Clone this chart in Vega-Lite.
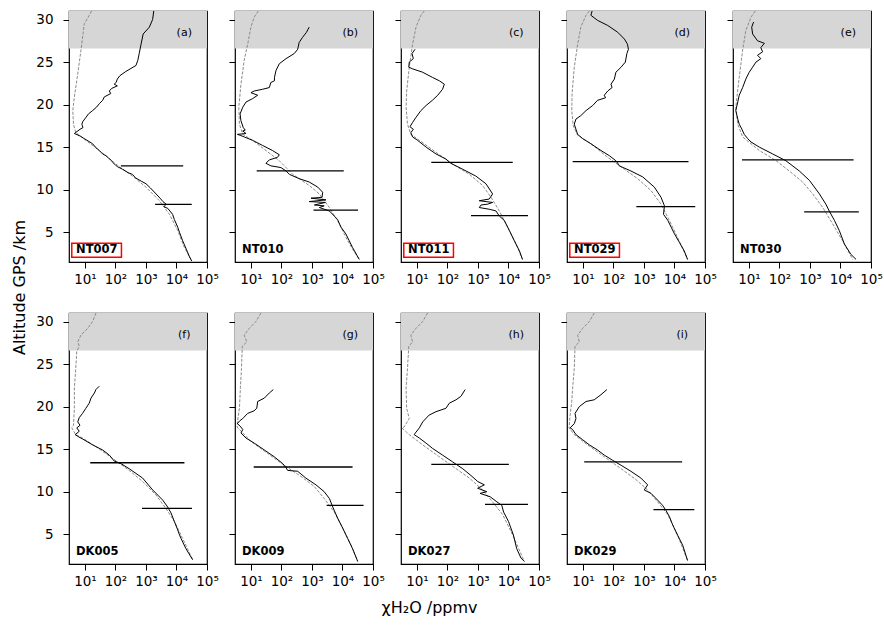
{
"$schema": "https://vega.github.io/schema/vega-lite/v6.json",
"background": "white",
"padding": {"left": 11, "top": 8, "right": 5, "bottom": 5},
"columns": 5,
"spacing": {"row": 51, "column": 28},
"bounds": "flush",
"config": {
  "font": "DejaVu Sans",
  "view": {"stroke": "black", "strokeWidth": 1.2},
  "axis": {"domain": false, "tickColor": "black", "tickSize": 6, "tickWidth": 1, "labelFont": "DejaVu Sans", "labelFontSize": 13.5, "labelColor": "black", "labelOverlap": false, "labelFlush": false, "labelBound": false, "gridColor": "#bdbdbd", "gridDash": [1, 1.5], "gridWidth": 0.8, "titleFont": "DejaVu Sans", "titleFontSize": 16, "titleFontWeight": "normal", "titleColor": "black"},
  "axisX": {"labelPadding": 4},
  "axisY": {"labelPadding": 10}
},
"datasets": {
  "panels": [
    {"panel": "a", "letter": "(a)", "name": "NT007", "boxed": true},
    {"panel": "b", "letter": "(b)", "name": "NT010", "boxed": false},
    {"panel": "c", "letter": "(c)", "name": "NT011", "boxed": true},
    {"panel": "d", "letter": "(d)", "name": "NT029", "boxed": true},
    {"panel": "e", "letter": "(e)", "name": "NT030", "boxed": false},
    {"panel": "f", "letter": "(f)", "name": "DK005", "boxed": false},
    {"panel": "g", "letter": "(g)", "name": "DK009", "boxed": false},
    {"panel": "h", "letter": "(h)", "name": "DK027", "boxed": false},
    {"panel": "i", "letter": "(i)", "name": "DK029", "boxed": false}
  ],
  "bars": [
    {"panel": "a", "alt": 12.8, "lo": 151, "hi": 16600}, {"panel": "a", "alt": 8.27, "lo": 1990, "hi": 31600},
    {"panel": "b", "alt": 12.2, "lo": 15.4, "hi": 11000}, {"panel": "b", "alt": 7.6, "lo": 1120, "hi": 32400},
    {"panel": "c", "alt": 13.2, "lo": 29.5, "hi": 13800}, {"panel": "c", "alt": 6.94, "lo": 590, "hi": 43600},
    {"panel": "d", "alt": 13.3, "lo": 4.6, "hi": 28800}, {"panel": "d", "alt": 8.0, "lo": 562, "hi": 47900},
    {"panel": "e", "alt": 13.5, "lo": 5.9, "hi": 26900}, {"panel": "e", "alt": 7.4, "lo": 646, "hi": 39800},
    {"panel": "f", "alt": 13.4, "lo": 14.9, "hi": 18200}, {"panel": "f", "alt": 8.04, "lo": 741, "hi": 32100},
    {"panel": "g", "alt": 12.9, "lo": 12.3, "hi": 21400}, {"panel": "g", "alt": 8.4, "lo": 3020, "hi": 49000},
    {"panel": "h", "alt": 13.2, "lo": 29.5, "hi": 10300}, {"panel": "h", "alt": 8.5, "lo": 1700, "hi": 43600},
    {"panel": "i", "alt": 13.5, "lo": 11, "hi": 17800}, {"panel": "i", "alt": 7.9, "lo": 2040, "hi": 44700}
  ],
  "profiles": [
    {"panel": "a", "series": "reference", "alt": 31, "ppmv": 16.5}, {"panel": "a", "series": "reference", "alt": 30.5, "ppmv": 13.9}, {"panel": "a", "series": "reference", "alt": 29.5, "ppmv": 9.5}, {"panel": "a", "series": "reference", "alt": 26.4, "ppmv": 7.4}, {"panel": "a", "series": "reference", "alt": 23.6, "ppmv": 5.8}, {"panel": "a", "series": "reference", "alt": 20.9, "ppmv": 4.5}, {"panel": "a", "series": "reference", "alt": 19.3, "ppmv": 4.0}, {"panel": "a", "series": "reference", "alt": 17.7, "ppmv": 4.2}, {"panel": "a", "series": "reference", "alt": 16.7, "ppmv": 5.0}, {"panel": "a", "series": "reference", "alt": 15.8, "ppmv": 10.8}, {"panel": "a", "series": "reference", "alt": 14.6, "ppmv": 29.5}, {"panel": "a", "series": "reference", "alt": 13.0, "ppmv": 104}, {"panel": "a", "series": "reference", "alt": 11.6, "ppmv": 360}, {"panel": "a", "series": "reference", "alt": 10.3, "ppmv": 1000}, {"panel": "a", "series": "reference", "alt": 8.7, "ppmv": 2750}, {"panel": "a", "series": "reference", "alt": 7.1, "ppmv": 5890}, {"panel": "a", "series": "reference", "alt": 5.2, "ppmv": 10960}, {"panel": "a", "series": "reference", "alt": 3.2, "ppmv": 18200}, {"panel": "a", "series": "reference", "alt": 1.8, "ppmv": 30000},
    {"panel": "a", "series": "measured", "alt": 31, "ppmv": 1800}, {"panel": "a", "series": "measured", "alt": 30, "ppmv": 1650}, {"panel": "a", "series": "measured", "alt": 29.1, "ppmv": 1290}, {"panel": "a", "series": "measured", "alt": 28.3, "ppmv": 810}, {"panel": "a", "series": "measured", "alt": 27.1, "ppmv": 690}, {"panel": "a", "series": "measured", "alt": 26, "ppmv": 600}, {"panel": "a", "series": "measured", "alt": 25.2, "ppmv": 540}, {"panel": "a", "series": "measured", "alt": 24.6, "ppmv": 470}, {"panel": "a", "series": "measured", "alt": 23.9, "ppmv": 220}, {"panel": "a", "series": "measured", "alt": 23.4, "ppmv": 140}, {"panel": "a", "series": "measured", "alt": 23, "ppmv": 115}, {"panel": "a", "series": "measured", "alt": 22.6, "ppmv": 105}, {"panel": "a", "series": "measured", "alt": 22.4, "ppmv": 91}, {"panel": "a", "series": "measured", "alt": 22.2, "ppmv": 115}, {"panel": "a", "series": "measured", "alt": 21.9, "ppmv": 75}, {"panel": "a", "series": "measured", "alt": 21.6, "ppmv": 63}, {"panel": "a", "series": "measured", "alt": 21.3, "ppmv": 70}, {"panel": "a", "series": "measured", "alt": 20.9, "ppmv": 43}, {"panel": "a", "series": "measured", "alt": 20.5, "ppmv": 38}, {"panel": "a", "series": "measured", "alt": 20.1, "ppmv": 29.5}, {"panel": "a", "series": "measured", "alt": 19.7, "ppmv": 24}, {"panel": "a", "series": "measured", "alt": 19.3, "ppmv": 17.8}, {"panel": "a", "series": "measured", "alt": 18.9, "ppmv": 13}, {"panel": "a", "series": "measured", "alt": 18.5, "ppmv": 10.8}, {"panel": "a", "series": "measured", "alt": 18, "ppmv": 8.5}, {"panel": "a", "series": "measured", "alt": 17.7, "ppmv": 7.9}, {"panel": "a", "series": "measured", "alt": 17.3, "ppmv": 8.6}, {"panel": "a", "series": "measured", "alt": 17.1, "ppmv": 6.9}, {"panel": "a", "series": "measured", "alt": 16.6, "ppmv": 4.5}, {"panel": "a", "series": "measured", "alt": 16.3, "ppmv": 7}, {"panel": "a", "series": "measured", "alt": 16, "ppmv": 9.5}, {"panel": "a", "series": "measured", "alt": 15.4, "ppmv": 17.8}, {"panel": "a", "series": "measured", "alt": 15, "ppmv": 22}, {"panel": "a", "series": "measured", "alt": 14.6, "ppmv": 29.5}, {"panel": "a", "series": "measured", "alt": 14.2, "ppmv": 38}, {"panel": "a", "series": "measured", "alt": 14, "ppmv": 49}, {"panel": "a", "series": "measured", "alt": 13.7, "ppmv": 60}, {"panel": "a", "series": "measured", "alt": 13.4, "ppmv": 75}, {"panel": "a", "series": "measured", "alt": 13.2, "ppmv": 81}, {"panel": "a", "series": "measured", "alt": 12.9, "ppmv": 100}, {"panel": "a", "series": "measured", "alt": 12.7, "ppmv": 117}, {"panel": "a", "series": "measured", "alt": 12.4, "ppmv": 170}, {"panel": "a", "series": "measured", "alt": 12, "ppmv": 260}, {"panel": "a", "series": "measured", "alt": 11.8, "ppmv": 360}, {"panel": "a", "series": "measured", "alt": 11.4, "ppmv": 450}, {"panel": "a", "series": "measured", "alt": 11, "ppmv": 700}, {"panel": "a", "series": "measured", "alt": 10.7, "ppmv": 1000}, {"panel": "a", "series": "measured", "alt": 10.2, "ppmv": 1400}, {"panel": "a", "series": "measured", "alt": 9.5, "ppmv": 2140}, {"panel": "a", "series": "measured", "alt": 9, "ppmv": 2900}, {"panel": "a", "series": "measured", "alt": 8.6, "ppmv": 3600}, {"panel": "a", "series": "measured", "alt": 8.3, "ppmv": 4570}, {"panel": "a", "series": "measured", "alt": 8, "ppmv": 3900}, {"panel": "a", "series": "measured", "alt": 7.8, "ppmv": 5200}, {"panel": "a", "series": "measured", "alt": 7.1, "ppmv": 7460}, {"panel": "a", "series": "measured", "alt": 6.5, "ppmv": 8500}, {"panel": "a", "series": "measured", "alt": 5.6, "ppmv": 10960}, {"panel": "a", "series": "measured", "alt": 5, "ppmv": 12500}, {"panel": "a", "series": "measured", "alt": 4, "ppmv": 15900}, {"panel": "a", "series": "measured", "alt": 3, "ppmv": 21000}, {"panel": "a", "series": "measured", "alt": 2.2, "ppmv": 26000}, {"panel": "a", "series": "measured", "alt": 1.6, "ppmv": 31600},

    {"panel": "b", "series": "reference", "alt": 31, "ppmv": 17.4}, {"panel": "b", "series": "reference", "alt": 30.3, "ppmv": 12.9}, {"panel": "b", "series": "reference", "alt": 29.1, "ppmv": 10}, {"panel": "b", "series": "reference", "alt": 27.1, "ppmv": 7.8}, {"panel": "b", "series": "reference", "alt": 25.2, "ppmv": 6}, {"panel": "b", "series": "reference", "alt": 22.4, "ppmv": 4.7}, {"panel": "b", "series": "reference", "alt": 19.7, "ppmv": 4}, {"panel": "b", "series": "reference", "alt": 17.7, "ppmv": 4.2}, {"panel": "b", "series": "reference", "alt": 16.5, "ppmv": 5.4}, {"panel": "b", "series": "reference", "alt": 15.8, "ppmv": 11.3}, {"panel": "b", "series": "reference", "alt": 14.6, "ppmv": 31}, {"panel": "b", "series": "reference", "alt": 13.4, "ppmv": 85}, {"panel": "b", "series": "reference", "alt": 11.8, "ppmv": 234}, {"panel": "b", "series": "reference", "alt": 10.5, "ppmv": 810}, {"panel": "b", "series": "reference", "alt": 9.5, "ppmv": 1740}, {"panel": "b", "series": "reference", "alt": 7.9, "ppmv": 3720}, {"panel": "b", "series": "reference", "alt": 6, "ppmv": 7900}, {"panel": "b", "series": "reference", "alt": 4.4, "ppmv": 12900}, {"panel": "b", "series": "reference", "alt": 3, "ppmv": 21400}, {"panel": "b", "series": "reference", "alt": 1.8, "ppmv": 35500},
    {"panel": "b", "series": "measured", "alt": 29.1, "ppmv": 810}, {"panel": "b", "series": "measured", "alt": 28.5, "ppmv": 660}, {"panel": "b", "series": "measured", "alt": 27.9, "ppmv": 490}, {"panel": "b", "series": "measured", "alt": 27.3, "ppmv": 380}, {"panel": "b", "series": "measured", "alt": 26.5, "ppmv": 340}, {"panel": "b", "series": "measured", "alt": 26, "ppmv": 263}, {"panel": "b", "series": "measured", "alt": 25.4, "ppmv": 141}, {"panel": "b", "series": "measured", "alt": 24.8, "ppmv": 85}, {"panel": "b", "series": "measured", "alt": 24, "ppmv": 66}, {"panel": "b", "series": "measured", "alt": 23.2, "ppmv": 59}, {"panel": "b", "series": "measured", "alt": 22.8, "ppmv": 59}, {"panel": "b", "series": "measured", "alt": 22.6, "ppmv": 45}, {"panel": "b", "series": "measured", "alt": 22, "ppmv": 40}, {"panel": "b", "series": "measured", "alt": 21.8, "ppmv": 24}, {"panel": "b", "series": "measured", "alt": 21.6, "ppmv": 12.9}, {"panel": "b", "series": "measured", "alt": 21.4, "ppmv": 10}, {"panel": "b", "series": "measured", "alt": 21.1, "ppmv": 16.6}, {"panel": "b", "series": "measured", "alt": 20.7, "ppmv": 11.3}, {"panel": "b", "series": "measured", "alt": 20.3, "ppmv": 6.9}, {"panel": "b", "series": "measured", "alt": 19.7, "ppmv": 5.4}, {"panel": "b", "series": "measured", "alt": 18.9, "ppmv": 4.4}, {"panel": "b", "series": "measured", "alt": 18.1, "ppmv": 4.7}, {"panel": "b", "series": "measured", "alt": 17.3, "ppmv": 5.6}, {"panel": "b", "series": "measured", "alt": 17, "ppmv": 6.5}, {"panel": "b", "series": "measured", "alt": 16.9, "ppmv": 5.4}, {"panel": "b", "series": "measured", "alt": 16.6, "ppmv": 6.9}, {"panel": "b", "series": "measured", "alt": 16.5, "ppmv": 3.6}, {"panel": "b", "series": "measured", "alt": 16.4, "ppmv": 4.4}, {"panel": "b", "series": "measured", "alt": 16.2, "ppmv": 6}, {"panel": "b", "series": "measured", "alt": 15.8, "ppmv": 11.3}, {"panel": "b", "series": "measured", "alt": 15.2, "ppmv": 24}, {"panel": "b", "series": "measured", "alt": 14.6, "ppmv": 51}, {"panel": "b", "series": "measured", "alt": 14.1, "ppmv": 85}, {"panel": "b", "series": "measured", "alt": 13.8, "ppmv": 74}, {"panel": "b", "series": "measured", "alt": 13.5, "ppmv": 40}, {"panel": "b", "series": "measured", "alt": 13.1, "ppmv": 31}, {"panel": "b", "series": "measured", "alt": 12.8, "ppmv": 45}, {"panel": "b", "series": "measured", "alt": 12.6, "ppmv": 96}, {"panel": "b", "series": "measured", "alt": 12.2, "ppmv": 141}, {"panel": "b", "series": "measured", "alt": 11.8, "ppmv": 182}, {"panel": "b", "series": "measured", "alt": 11.3, "ppmv": 380}, {"panel": "b", "series": "measured", "alt": 10.9, "ppmv": 810}, {"panel": "b", "series": "measured", "alt": 10.3, "ppmv": 1550}, {"panel": "b", "series": "measured", "alt": 9.7, "ppmv": 2240}, {"panel": "b", "series": "measured", "alt": 9.1, "ppmv": 2140}, {"panel": "b", "series": "measured", "alt": 9, "ppmv": 930}, {"panel": "b", "series": "measured", "alt": 8.8, "ppmv": 2880}, {"panel": "b", "series": "measured", "alt": 8.6, "ppmv": 810}, {"panel": "b", "series": "measured", "alt": 8.5, "ppmv": 2750}, {"panel": "b", "series": "measured", "alt": 8.2, "ppmv": 1200}, {"panel": "b", "series": "measured", "alt": 8.1, "ppmv": 2510}, {"panel": "b", "series": "measured", "alt": 7.9, "ppmv": 1740}, {"panel": "b", "series": "measured", "alt": 7.5, "ppmv": 3720}, {"panel": "b", "series": "measured", "alt": 6.9, "ppmv": 5370}, {"panel": "b", "series": "measured", "alt": 6.5, "ppmv": 6900}, {"panel": "b", "series": "measured", "alt": 5.6, "ppmv": 8900}, {"panel": "b", "series": "measured", "alt": 4.8, "ppmv": 12900}, {"panel": "b", "series": "measured", "alt": 4, "ppmv": 16600}, {"panel": "b", "series": "measured", "alt": 3.2, "ppmv": 21400}, {"panel": "b", "series": "measured", "alt": 1.8, "ppmv": 35500},

    {"panel": "c", "series": "reference", "alt": 31, "ppmv": 17.4}, {"panel": "c", "series": "reference", "alt": 30.5, "ppmv": 13.5}, {"panel": "c", "series": "reference", "alt": 29.1, "ppmv": 9.3}, {"panel": "c", "series": "reference", "alt": 27.1, "ppmv": 7.2}, {"panel": "c", "series": "reference", "alt": 24.4, "ppmv": 5.6}, {"panel": "c", "series": "reference", "alt": 21.6, "ppmv": 4.6}, {"panel": "c", "series": "reference", "alt": 19.7, "ppmv": 4.4}, {"panel": "c", "series": "reference", "alt": 17.7, "ppmv": 4.9}, {"panel": "c", "series": "reference", "alt": 16.5, "ppmv": 6.3}, {"panel": "c", "series": "reference", "alt": 15.8, "ppmv": 12}, {"panel": "c", "series": "reference", "alt": 14.4, "ppmv": 42}, {"panel": "c", "series": "reference", "alt": 13, "ppmv": 148}, {"panel": "c", "series": "reference", "alt": 11.8, "ppmv": 525}, {"panel": "c", "series": "reference", "alt": 10.5, "ppmv": 1410}, {"panel": "c", "series": "reference", "alt": 9.1, "ppmv": 2690}, {"panel": "c", "series": "reference", "alt": 7.5, "ppmv": 5010}, {"panel": "c", "series": "reference", "alt": 5.6, "ppmv": 9330}, {"panel": "c", "series": "reference", "alt": 3.6, "ppmv": 17800}, {"panel": "c", "series": "reference", "alt": 1.8, "ppmv": 28800},
    {"panel": "c", "series": "measured", "alt": 26.5, "ppmv": 8.6}, {"panel": "c", "series": "measured", "alt": 26, "ppmv": 6.9}, {"panel": "c", "series": "measured", "alt": 25.4, "ppmv": 7.6}, {"panel": "c", "series": "measured", "alt": 25, "ppmv": 5.6}, {"panel": "c", "series": "measured", "alt": 24.4, "ppmv": 5.4}, {"panel": "c", "series": "measured", "alt": 24.2, "ppmv": 7.2}, {"panel": "c", "series": "measured", "alt": 23.8, "ppmv": 15.4}, {"panel": "c", "series": "measured", "alt": 23.2, "ppmv": 32}, {"panel": "c", "series": "measured", "alt": 22.8, "ppmv": 54}, {"panel": "c", "series": "measured", "alt": 22.4, "ppmv": 79}, {"panel": "c", "series": "measured", "alt": 21.8, "ppmv": 69}, {"panel": "c", "series": "measured", "alt": 21.1, "ppmv": 48}, {"panel": "c", "series": "measured", "alt": 20.5, "ppmv": 32}, {"panel": "c", "series": "measured", "alt": 19.9, "ppmv": 20}, {"panel": "c", "series": "measured", "alt": 19.3, "ppmv": 13.5}, {"panel": "c", "series": "measured", "alt": 18.5, "ppmv": 9.3}, {"panel": "c", "series": "measured", "alt": 17.9, "ppmv": 7.2}, {"panel": "c", "series": "measured", "alt": 17.4, "ppmv": 5.9}, {"panel": "c", "series": "measured", "alt": 17.1, "ppmv": 7.6}, {"panel": "c", "series": "measured", "alt": 16.7, "ppmv": 6.3}, {"panel": "c", "series": "measured", "alt": 16.2, "ppmv": 7.2}, {"panel": "c", "series": "measured", "alt": 15.8, "ppmv": 10.5}, {"panel": "c", "series": "measured", "alt": 15, "ppmv": 20}, {"panel": "c", "series": "measured", "alt": 14.2, "ppmv": 42}, {"panel": "c", "series": "measured", "alt": 13.6, "ppmv": 89}, {"panel": "c", "series": "measured", "alt": 13.1, "ppmv": 129}, {"panel": "c", "series": "measured", "alt": 12.4, "ppmv": 316}, {"panel": "c", "series": "measured", "alt": 11.6, "ppmv": 850}, {"panel": "c", "series": "measured", "alt": 10.7, "ppmv": 1820}, {"panel": "c", "series": "measured", "alt": 9.5, "ppmv": 3020}, {"panel": "c", "series": "measured", "alt": 8.9, "ppmv": 2340}, {"panel": "c", "series": "measured", "alt": 8.7, "ppmv": 1100}, {"panel": "c", "series": "measured", "alt": 8.5, "ppmv": 3020}, {"panel": "c", "series": "measured", "alt": 8.3, "ppmv": 2090}, {"panel": "c", "series": "measured", "alt": 8.2, "ppmv": 1260}, {"panel": "c", "series": "measured", "alt": 7.9, "ppmv": 1100}, {"panel": "c", "series": "measured", "alt": 7.7, "ppmv": 2340}, {"panel": "c", "series": "measured", "alt": 7.5, "ppmv": 3890}, {"panel": "c", "series": "measured", "alt": 6.9, "ppmv": 5010}, {"panel": "c", "series": "measured", "alt": 6.4, "ppmv": 7240}, {"panel": "c", "series": "measured", "alt": 5.2, "ppmv": 10700}, {"panel": "c", "series": "measured", "alt": 4, "ppmv": 15500}, {"panel": "c", "series": "measured", "alt": 2.8, "ppmv": 22900}, {"panel": "c", "series": "measured", "alt": 1.8, "ppmv": 28800},

    {"panel": "d", "series": "reference", "alt": 31, "ppmv": 16.2}, {"panel": "d", "series": "reference", "alt": 30.5, "ppmv": 12.6}, {"panel": "d", "series": "reference", "alt": 29.1, "ppmv": 8.5}, {"panel": "d", "series": "reference", "alt": 27.1, "ppmv": 6.7}, {"panel": "d", "series": "reference", "alt": 24.4, "ppmv": 5.2}, {"panel": "d", "series": "reference", "alt": 21.3, "ppmv": 4.4}, {"panel": "d", "series": "reference", "alt": 19.3, "ppmv": 4.3}, {"panel": "d", "series": "reference", "alt": 17.5, "ppmv": 4.8}, {"panel": "d", "series": "reference", "alt": 16.4, "ppmv": 6.7}, {"panel": "d", "series": "reference", "alt": 15.4, "ppmv": 18.2}, {"panel": "d", "series": "reference", "alt": 13.8, "ppmv": 65}, {"panel": "d", "series": "reference", "alt": 12.4, "ppmv": 229}, {"panel": "d", "series": "reference", "alt": 11.3, "ppmv": 617}, {"panel": "d", "series": "reference", "alt": 9.9, "ppmv": 1700}, {"panel": "d", "series": "reference", "alt": 8.3, "ppmv": 3630}, {"panel": "d", "series": "reference", "alt": 6.4, "ppmv": 6760}, {"panel": "d", "series": "reference", "alt": 4.4, "ppmv": 12600}, {"panel": "d", "series": "reference", "alt": 1.8, "ppmv": 26900},
    {"panel": "d", "series": "measured", "alt": 31, "ppmv": 20}, {"panel": "d", "series": "measured", "alt": 30.5, "ppmv": 18.2}, {"panel": "d", "series": "measured", "alt": 29.9, "ppmv": 30}, {"panel": "d", "series": "measured", "alt": 29.3, "ppmv": 65}, {"panel": "d", "series": "measured", "alt": 28.5, "ppmv": 138}, {"panel": "d", "series": "measured", "alt": 27.7, "ppmv": 229}, {"panel": "d", "series": "measured", "alt": 27.1, "ppmv": 288}, {"panel": "d", "series": "measured", "alt": 26.5, "ppmv": 309}, {"panel": "d", "series": "measured", "alt": 26, "ppmv": 275}, {"panel": "d", "series": "measured", "alt": 25, "ppmv": 245}, {"panel": "d", "series": "measured", "alt": 24.4, "ppmv": 178}, {"panel": "d", "series": "measured", "alt": 23.8, "ppmv": 120}, {"panel": "d", "series": "measured", "alt": 23, "ppmv": 107}, {"panel": "d", "series": "measured", "alt": 22.4, "ppmv": 83}, {"panel": "d", "series": "measured", "alt": 22, "ppmv": 90}, {"panel": "d", "series": "measured", "alt": 21.6, "ppmv": 65}, {"panel": "d", "series": "measured", "alt": 21.1, "ppmv": 50}, {"panel": "d", "series": "measured", "alt": 20.8, "ppmv": 55}, {"panel": "d", "series": "measured", "alt": 20.5, "ppmv": 30}, {"panel": "d", "series": "measured", "alt": 19.9, "ppmv": 21}, {"panel": "d", "series": "measured", "alt": 19.3, "ppmv": 12.6}, {"panel": "d", "series": "measured", "alt": 18.7, "ppmv": 8.5}, {"panel": "d", "series": "measured", "alt": 18.3, "ppmv": 5.9}, {"panel": "d", "series": "measured", "alt": 17.7, "ppmv": 5.2}, {"panel": "d", "series": "measured", "alt": 17.1, "ppmv": 5.9}, {"panel": "d", "series": "measured", "alt": 16.5, "ppmv": 6.7}, {"panel": "d", "series": "measured", "alt": 16, "ppmv": 9.8}, {"panel": "d", "series": "measured", "alt": 15.4, "ppmv": 18.2}, {"panel": "d", "series": "measured", "alt": 14.6, "ppmv": 39}, {"panel": "d", "series": "measured", "alt": 14, "ppmv": 73}, {"panel": "d", "series": "measured", "alt": 13.4, "ppmv": 120}, {"panel": "d", "series": "measured", "alt": 13, "ppmv": 145}, {"panel": "d", "series": "measured", "alt": 12.8, "ppmv": 155}, {"panel": "d", "series": "measured", "alt": 12.2, "ppmv": 372}, {"panel": "d", "series": "measured", "alt": 11.5, "ppmv": 910}, {"panel": "d", "series": "measured", "alt": 10.3, "ppmv": 2190}, {"panel": "d", "series": "measured", "alt": 9.1, "ppmv": 3630}, {"panel": "d", "series": "measured", "alt": 8.1, "ppmv": 4680}, {"panel": "d", "series": "measured", "alt": 7.1, "ppmv": 4370}, {"panel": "d", "series": "measured", "alt": 6.4, "ppmv": 6030}, {"panel": "d", "series": "measured", "alt": 5.6, "ppmv": 7760}, {"panel": "d", "series": "measured", "alt": 4.8, "ppmv": 10000}, {"panel": "d", "series": "measured", "alt": 3.8, "ppmv": 14500}, {"panel": "d", "series": "measured", "alt": 2.8, "ppmv": 20900}, {"panel": "d", "series": "measured", "alt": 1.8, "ppmv": 26900},

    {"panel": "e", "series": "reference", "alt": 31, "ppmv": 16.2}, {"panel": "e", "series": "reference", "alt": 30.3, "ppmv": 11.7}, {"panel": "e", "series": "reference", "alt": 28.7, "ppmv": 7.9}, {"panel": "e", "series": "reference", "alt": 26.4, "ppmv": 6.2}, {"panel": "e", "series": "reference", "alt": 23.2, "ppmv": 4.8}, {"panel": "e", "series": "reference", "alt": 19.7, "ppmv": 3.7}, {"panel": "e", "series": "reference", "alt": 17.7, "ppmv": 4.3}, {"panel": "e", "series": "reference", "alt": 16.2, "ppmv": 6.2}, {"panel": "e", "series": "reference", "alt": 14.6, "ppmv": 21.9}, {"panel": "e", "series": "reference", "alt": 13.4, "ppmv": 78}, {"panel": "e", "series": "reference", "alt": 12.2, "ppmv": 209}, {"panel": "e", "series": "reference", "alt": 10.9, "ppmv": 575}, {"panel": "e", "series": "reference", "alt": 9.5, "ppmv": 1230}, {"panel": "e", "series": "reference", "alt": 7.9, "ppmv": 2630}, {"panel": "e", "series": "reference", "alt": 6, "ppmv": 5500}, {"panel": "e", "series": "reference", "alt": 4, "ppmv": 11700}, {"panel": "e", "series": "reference", "alt": 1.8, "ppmv": 25100},
    {"panel": "e", "series": "measured", "alt": 29.7, "ppmv": 14.2}, {"panel": "e", "series": "measured", "alt": 29.1, "ppmv": 12.3}, {"panel": "e", "series": "measured", "alt": 28.3, "ppmv": 13.2}, {"panel": "e", "series": "measured", "alt": 27.5, "ppmv": 19.1}, {"panel": "e", "series": "measured", "alt": 27.2, "ppmv": 32}, {"panel": "e", "series": "measured", "alt": 26.7, "ppmv": 24.5}, {"panel": "e", "series": "measured", "alt": 26.2, "ppmv": 28}, {"panel": "e", "series": "measured", "alt": 25.8, "ppmv": 19.1}, {"panel": "e", "series": "measured", "alt": 25.4, "ppmv": 24.5}, {"panel": "e", "series": "measured", "alt": 25, "ppmv": 17}, {"panel": "e", "series": "measured", "alt": 24.4, "ppmv": 13.2}, {"panel": "e", "series": "measured", "alt": 23.8, "ppmv": 10.2}, {"panel": "e", "series": "measured", "alt": 23, "ppmv": 7.9}, {"panel": "e", "series": "measured", "alt": 22, "ppmv": 6.2}, {"panel": "e", "series": "measured", "alt": 21.1, "ppmv": 4.8}, {"panel": "e", "series": "measured", "alt": 20.3, "ppmv": 4.3}, {"panel": "e", "series": "measured", "alt": 19.3, "ppmv": 3.7}, {"panel": "e", "series": "measured", "alt": 18.3, "ppmv": 4.3}, {"panel": "e", "series": "measured", "alt": 17.7, "ppmv": 4.8}, {"panel": "e", "series": "measured", "alt": 17.1, "ppmv": 5.9}, {"panel": "e", "series": "measured", "alt": 16.5, "ppmv": 7}, {"panel": "e", "series": "measured", "alt": 16, "ppmv": 9.1}, {"panel": "e", "series": "measured", "alt": 15.6, "ppmv": 11.7}, {"panel": "e", "series": "measured", "alt": 15, "ppmv": 21.9}, {"panel": "e", "series": "measured", "alt": 14.2, "ppmv": 60}, {"panel": "e", "series": "measured", "alt": 13.4, "ppmv": 162}, {"panel": "e", "series": "measured", "alt": 12.2, "ppmv": 447}, {"panel": "e", "series": "measured", "alt": 11.1, "ppmv": 955}, {"panel": "e", "series": "measured", "alt": 9.5, "ppmv": 2040}, {"panel": "e", "series": "measured", "alt": 8.3, "ppmv": 3310}, {"panel": "e", "series": "measured", "alt": 7.5, "ppmv": 4270}, {"panel": "e", "series": "measured", "alt": 6.4, "ppmv": 6310}, {"panel": "e", "series": "measured", "alt": 5.2, "ppmv": 9120}, {"panel": "e", "series": "measured", "alt": 3.6, "ppmv": 13500}, {"panel": "e", "series": "measured", "alt": 2.4, "ppmv": 21900}, {"panel": "e", "series": "measured", "alt": 1.8, "ppmv": 32400},

    {"panel": "f", "series": "reference", "alt": 31, "ppmv": 23}, {"panel": "f", "series": "reference", "alt": 30, "ppmv": 17.8}, {"panel": "f", "series": "reference", "alt": 29.2, "ppmv": 12.3}, {"panel": "f", "series": "reference", "alt": 28.4, "ppmv": 7.4}, {"panel": "f", "series": "reference", "alt": 27.6, "ppmv": 5.8}, {"panel": "f", "series": "reference", "alt": 27.1, "ppmv": 6.5}, {"panel": "f", "series": "reference", "alt": 26.5, "ppmv": 5.4}, {"panel": "f", "series": "reference", "alt": 24.5, "ppmv": 5}, {"panel": "f", "series": "reference", "alt": 22.2, "ppmv": 4.5}, {"panel": "f", "series": "reference", "alt": 19.8, "ppmv": 4.5}, {"panel": "f", "series": "reference", "alt": 17.8, "ppmv": 4.2}, {"panel": "f", "series": "reference", "alt": 17.5, "ppmv": 3.7}, {"panel": "f", "series": "reference", "alt": 16.7, "ppmv": 5}, {"panel": "f", "series": "reference", "alt": 16.3, "ppmv": 8.3}, {"panel": "f", "series": "reference", "alt": 15.3, "ppmv": 22.9}, {"panel": "f", "series": "reference", "alt": 13.9, "ppmv": 81}, {"panel": "f", "series": "reference", "alt": 12.5, "ppmv": 282}, {"panel": "f", "series": "reference", "alt": 11.2, "ppmv": 776}, {"panel": "f", "series": "reference", "alt": 9.6, "ppmv": 2140}, {"panel": "f", "series": "reference", "alt": 8, "ppmv": 4570}, {"panel": "f", "series": "reference", "alt": 6.5, "ppmv": 8510}, {"panel": "f", "series": "reference", "alt": 4.5, "ppmv": 15900}, {"panel": "f", "series": "reference", "alt": 2, "ppmv": 33900},
    {"panel": "f", "series": "measured", "alt": 22.4, "ppmv": 29.5}, {"panel": "f", "series": "measured", "alt": 22, "ppmv": 22.9}, {"panel": "f", "series": "measured", "alt": 21.6, "ppmv": 20.4}, {"panel": "f", "series": "measured", "alt": 21, "ppmv": 15.8}, {"panel": "f", "series": "measured", "alt": 20.4, "ppmv": 13.8}, {"panel": "f", "series": "measured", "alt": 19.8, "ppmv": 10.7}, {"panel": "f", "series": "measured", "alt": 19.2, "ppmv": 8.3}, {"panel": "f", "series": "measured", "alt": 18.7, "ppmv": 6.5}, {"panel": "f", "series": "measured", "alt": 18.2, "ppmv": 5.8}, {"panel": "f", "series": "measured", "alt": 17.8, "ppmv": 6.9}, {"panel": "f", "series": "measured", "alt": 17.5, "ppmv": 5.4}, {"panel": "f", "series": "measured", "alt": 17.1, "ppmv": 6.5}, {"panel": "f", "series": "measured", "alt": 16.7, "ppmv": 4.8}, {"panel": "f", "series": "measured", "alt": 16.5, "ppmv": 5.8}, {"panel": "f", "series": "measured", "alt": 16.2, "ppmv": 8.3}, {"panel": "f", "series": "measured", "alt": 15.5, "ppmv": 17.8}, {"panel": "f", "series": "measured", "alt": 14.9, "ppmv": 38}, {"panel": "f", "series": "measured", "alt": 14.3, "ppmv": 63}, {"panel": "f", "series": "measured", "alt": 13.6, "ppmv": 91}, {"panel": "f", "series": "measured", "alt": 13.3, "ppmv": 151}, {"panel": "f", "series": "measured", "alt": 12.7, "ppmv": 282}, {"panel": "f", "series": "measured", "alt": 11.6, "ppmv": 776}, {"panel": "f", "series": "measured", "alt": 10.2, "ppmv": 1660}, {"panel": "f", "series": "measured", "alt": 9, "ppmv": 3550}, {"panel": "f", "series": "measured", "alt": 8.2, "ppmv": 5130}, {"panel": "f", "series": "measured", "alt": 7.5, "ppmv": 6610}, {"panel": "f", "series": "measured", "alt": 6.5, "ppmv": 8510}, {"panel": "f", "series": "measured", "alt": 5.5, "ppmv": 11000}, {"panel": "f", "series": "measured", "alt": 5.1, "ppmv": 12000}, {"panel": "f", "series": "measured", "alt": 4.5, "ppmv": 14100}, {"panel": "f", "series": "measured", "alt": 3.3, "ppmv": 20400}, {"panel": "f", "series": "measured", "alt": 2, "ppmv": 33900},

    {"panel": "g", "series": "reference", "alt": 31, "ppmv": 21.2}, {"panel": "g", "series": "reference", "alt": 30, "ppmv": 14.5}, {"panel": "g", "series": "reference", "alt": 29.2, "ppmv": 8.9}, {"panel": "g", "series": "reference", "alt": 28.4, "ppmv": 6}, {"panel": "g", "series": "reference", "alt": 27.6, "ppmv": 7.3}, {"panel": "g", "series": "reference", "alt": 27.1, "ppmv": 5.2}, {"panel": "g", "series": "reference", "alt": 24.5, "ppmv": 4.9}, {"panel": "g", "series": "reference", "alt": 22.2, "ppmv": 4.5}, {"panel": "g", "series": "reference", "alt": 19.8, "ppmv": 4.2}, {"panel": "g", "series": "reference", "alt": 18.2, "ppmv": 3.6}, {"panel": "g", "series": "reference", "alt": 17.6, "ppmv": 3.5}, {"panel": "g", "series": "reference", "alt": 16.9, "ppmv": 5.4}, {"panel": "g", "series": "reference", "alt": 15.9, "ppmv": 10}, {"panel": "g", "series": "reference", "alt": 14.5, "ppmv": 35}, {"panel": "g", "series": "reference", "alt": 13.1, "ppmv": 123}, {"panel": "g", "series": "reference", "alt": 11.8, "ppmv": 436}, {"panel": "g", "series": "reference", "alt": 10.6, "ppmv": 1200}, {"panel": "g", "series": "reference", "alt": 9.2, "ppmv": 2510}, {"panel": "g", "series": "reference", "alt": 7.6, "ppmv": 5370}, {"panel": "g", "series": "reference", "alt": 5.7, "ppmv": 10200}, {"panel": "g", "series": "reference", "alt": 3.7, "ppmv": 19100}, {"panel": "g", "series": "reference", "alt": 1.8, "ppmv": 31600},
    {"panel": "g", "series": "measured", "alt": 22, "ppmv": 54}, {"panel": "g", "series": "measured", "alt": 21.6, "ppmv": 40}, {"panel": "g", "series": "measured", "alt": 21, "ppmv": 27.5}, {"panel": "g", "series": "measured", "alt": 20.6, "ppmv": 16.6}, {"panel": "g", "series": "measured", "alt": 19.8, "ppmv": 15.5}, {"panel": "g", "series": "measured", "alt": 19.5, "ppmv": 12.6}, {"panel": "g", "series": "measured", "alt": 19.2, "ppmv": 7.8}, {"panel": "g", "series": "measured", "alt": 18.6, "ppmv": 5.4}, {"panel": "g", "series": "measured", "alt": 18.3, "ppmv": 4.2}, {"panel": "g", "series": "measured", "alt": 18, "ppmv": 3.6}, {"panel": "g", "series": "measured", "alt": 17.6, "ppmv": 4.7}, {"panel": "g", "series": "measured", "alt": 17.3, "ppmv": 5.4}, {"panel": "g", "series": "measured", "alt": 16.9, "ppmv": 4.7}, {"panel": "g", "series": "measured", "alt": 16.3, "ppmv": 6.9}, {"panel": "g", "series": "measured", "alt": 15.7, "ppmv": 12.9}, {"panel": "g", "series": "measured", "alt": 14.9, "ppmv": 27.5}, {"panel": "g", "series": "measured", "alt": 14.1, "ppmv": 58}, {"panel": "g", "series": "measured", "alt": 13.3, "ppmv": 110}, {"panel": "g", "series": "measured", "alt": 12.8, "ppmv": 142}, {"panel": "g", "series": "measured", "alt": 12.5, "ppmv": 160}, {"panel": "g", "series": "measured", "alt": 12.4, "ppmv": 340}, {"panel": "g", "series": "measured", "alt": 11.6, "ppmv": 630}, {"panel": "g", "series": "measured", "alt": 10.8, "ppmv": 1350}, {"panel": "g", "series": "measured", "alt": 10, "ppmv": 2510}, {"panel": "g", "series": "measured", "alt": 9.2, "ppmv": 3720}, {"panel": "g", "series": "measured", "alt": 8.2, "ppmv": 4790}, {"panel": "g", "series": "measured", "alt": 6.9, "ppmv": 6920}, {"panel": "g", "series": "measured", "alt": 5.7, "ppmv": 10200}, {"panel": "g", "series": "measured", "alt": 4.5, "ppmv": 14800}, {"panel": "g", "series": "measured", "alt": 3.3, "ppmv": 21400}, {"panel": "g", "series": "measured", "alt": 1.8, "ppmv": 31600},

    {"panel": "h", "series": "reference", "alt": 31, "ppmv": 22.4}, {"panel": "h", "series": "reference", "alt": 30, "ppmv": 15.4}, {"panel": "h", "series": "reference", "alt": 29.2, "ppmv": 9.3}, {"panel": "h", "series": "reference", "alt": 28.4, "ppmv": 6.3}, {"panel": "h", "series": "reference", "alt": 27.6, "ppmv": 7.2}, {"panel": "h", "series": "reference", "alt": 27.1, "ppmv": 5.4}, {"panel": "h", "series": "reference", "alt": 24.5, "ppmv": 4.9}, {"panel": "h", "series": "reference", "alt": 22.2, "ppmv": 4.4}, {"panel": "h", "series": "reference", "alt": 19.8, "ppmv": 4.6}, {"panel": "h", "series": "reference", "alt": 18.6, "ppmv": 5.6}, {"panel": "h", "series": "reference", "alt": 17.6, "ppmv": 3.8}, {"panel": "h", "series": "reference", "alt": 17.5, "ppmv": 3.2}, {"panel": "h", "series": "reference", "alt": 16.7, "ppmv": 5.6}, {"panel": "h", "series": "reference", "alt": 15.5, "ppmv": 15.4}, {"panel": "h", "series": "reference", "alt": 14.1, "ppmv": 54}, {"panel": "h", "series": "reference", "alt": 12.7, "ppmv": 191}, {"panel": "h", "series": "reference", "alt": 11.6, "ppmv": 525}, {"panel": "h", "series": "reference", "alt": 10.2, "ppmv": 1410}, {"panel": "h", "series": "reference", "alt": 8.8, "ppmv": 3020}, {"panel": "h", "series": "reference", "alt": 7.3, "ppmv": 6460}, {"panel": "h", "series": "reference", "alt": 4.9, "ppmv": 13800}, {"panel": "h", "series": "reference", "alt": 1.8, "ppmv": 33100},
    {"panel": "h", "series": "measured", "alt": 22, "ppmv": 380}, {"panel": "h", "series": "measured", "alt": 21.2, "ppmv": 275}, {"panel": "h", "series": "measured", "alt": 20.8, "ppmv": 191}, {"panel": "h", "series": "measured", "alt": 20.4, "ppmv": 115}, {"panel": "h", "series": "measured", "alt": 19.8, "ppmv": 89}, {"panel": "h", "series": "measured", "alt": 19.4, "ppmv": 42}, {"panel": "h", "series": "measured", "alt": 19, "ppmv": 25}, {"panel": "h", "series": "measured", "alt": 18.2, "ppmv": 15.4}, {"panel": "h", "series": "measured", "alt": 17.5, "ppmv": 12}, {"panel": "h", "series": "measured", "alt": 17, "ppmv": 9.3}, {"panel": "h", "series": "measured", "alt": 16.7, "ppmv": 8.1}, {"panel": "h", "series": "measured", "alt": 16.3, "ppmv": 12}, {"panel": "h", "series": "measured", "alt": 15.7, "ppmv": 20}, {"panel": "h", "series": "measured", "alt": 15.1, "ppmv": 32}, {"panel": "h", "series": "measured", "alt": 14.3, "ppmv": 69}, {"panel": "h", "series": "measured", "alt": 13.5, "ppmv": 148}, {"panel": "h", "series": "measured", "alt": 12.7, "ppmv": 316}, {"panel": "h", "series": "measured", "alt": 11.9, "ppmv": 589}, {"panel": "h", "series": "measured", "alt": 11.2, "ppmv": 977}, {"panel": "h", "series": "measured", "alt": 10.8, "ppmv": 1620}, {"panel": "h", "series": "measured", "alt": 10.4, "ppmv": 977}, {"panel": "h", "series": "measured", "alt": 10, "ppmv": 1950}, {"panel": "h", "series": "measured", "alt": 9.8, "ppmv": 1170}, {"panel": "h", "series": "measured", "alt": 9.4, "ppmv": 2510}, {"panel": "h", "series": "measured", "alt": 8.8, "ppmv": 4170}, {"panel": "h", "series": "measured", "alt": 8.4, "ppmv": 6030}, {"panel": "h", "series": "measured", "alt": 7.6, "ppmv": 6920}, {"panel": "h", "series": "measured", "alt": 6.5, "ppmv": 10000}, {"panel": "h", "series": "measured", "alt": 4.9, "ppmv": 14500}, {"panel": "h", "series": "measured", "alt": 3.3, "ppmv": 18600}, {"panel": "h", "series": "measured", "alt": 2.2, "ppmv": 25700}, {"panel": "h", "series": "measured", "alt": 1.8, "ppmv": 33100},

    {"panel": "i", "series": "reference", "alt": 31, "ppmv": 23.4}, {"panel": "i", "series": "reference", "alt": 30, "ppmv": 16.2}, {"panel": "i", "series": "reference", "alt": 29.2, "ppmv": 9.8}, {"panel": "i", "series": "reference", "alt": 28.4, "ppmv": 6.7}, {"panel": "i", "series": "reference", "alt": 27.6, "ppmv": 7.6}, {"panel": "i", "series": "reference", "alt": 27.1, "ppmv": 5.5}, {"panel": "i", "series": "reference", "alt": 24.5, "ppmv": 5.2}, {"panel": "i", "series": "reference", "alt": 22.2, "ppmv": 4.6}, {"panel": "i", "series": "reference", "alt": 20.6, "ppmv": 4.3}, {"panel": "i", "series": "reference", "alt": 19, "ppmv": 3.8}, {"panel": "i", "series": "reference", "alt": 17.5, "ppmv": 3.5}, {"panel": "i", "series": "reference", "alt": 16.7, "ppmv": 5.2}, {"panel": "i", "series": "reference", "alt": 15.5, "ppmv": 14.2}, {"panel": "i", "series": "reference", "alt": 14.1, "ppmv": 50}, {"panel": "i", "series": "reference", "alt": 12.7, "ppmv": 178}, {"panel": "i", "series": "reference", "alt": 11.4, "ppmv": 550}, {"panel": "i", "series": "reference", "alt": 10.2, "ppmv": 1320}, {"panel": "i", "series": "reference", "alt": 8.8, "ppmv": 2820}, {"panel": "i", "series": "reference", "alt": 7.3, "ppmv": 6030}, {"panel": "i", "series": "reference", "alt": 4.9, "ppmv": 12600}, {"panel": "i", "series": "reference", "alt": 1.9, "ppmv": 26900},
    {"panel": "i", "series": "measured", "alt": 22, "ppmv": 61}, {"panel": "i", "series": "measured", "alt": 21.4, "ppmv": 39}, {"panel": "i", "series": "measured", "alt": 20.8, "ppmv": 23.4}, {"panel": "i", "series": "measured", "alt": 20.6, "ppmv": 12.6}, {"panel": "i", "series": "measured", "alt": 20, "ppmv": 7.6}, {"panel": "i", "series": "measured", "alt": 19.2, "ppmv": 5.5}, {"panel": "i", "series": "measured", "alt": 18.6, "ppmv": 5.9}, {"panel": "i", "series": "measured", "alt": 18, "ppmv": 5.2}, {"panel": "i", "series": "measured", "alt": 17.5, "ppmv": 3.8}, {"panel": "i", "series": "measured", "alt": 17.3, "ppmv": 4.6}, {"panel": "i", "series": "measured", "alt": 16.7, "ppmv": 5.9}, {"panel": "i", "series": "measured", "alt": 16.1, "ppmv": 9.8}, {"panel": "i", "series": "measured", "alt": 15.5, "ppmv": 16.2}, {"panel": "i", "series": "measured", "alt": 14.9, "ppmv": 30}, {"panel": "i", "series": "measured", "alt": 14.3, "ppmv": 50}, {"panel": "i", "series": "measured", "alt": 13.7, "ppmv": 93}, {"panel": "i", "series": "measured", "alt": 13.1, "ppmv": 178}, {"panel": "i", "series": "measured", "alt": 12.4, "ppmv": 372}, {"panel": "i", "series": "measured", "alt": 11.6, "ppmv": 794}, {"panel": "i", "series": "measured", "alt": 10.8, "ppmv": 1320}, {"panel": "i", "series": "measured", "alt": 10.2, "ppmv": 1020}, {"panel": "i", "series": "measured", "alt": 9.8, "ppmv": 1700}, {"panel": "i", "series": "measured", "alt": 9, "ppmv": 2820}, {"panel": "i", "series": "measured", "alt": 8.4, "ppmv": 4070}, {"panel": "i", "series": "measured", "alt": 7.8, "ppmv": 5250}, {"panel": "i", "series": "measured", "alt": 7.1, "ppmv": 6760}, {"panel": "i", "series": "measured", "alt": 6.1, "ppmv": 8710}, {"panel": "i", "series": "measured", "alt": 4.9, "ppmv": 12600}, {"panel": "i", "series": "measured", "alt": 3.7, "ppmv": 18600}, {"panel": "i", "series": "measured", "alt": 1.9, "ppmv": 26900}
  ]
},
"concat": [
  {"width": 138, "height": 251, "layer": [
    {"data": {"name": "panels"}, "transform": [{"filter": "datum.panel == 'a'"}], "mark": {"type": "rect", "color": "#d6d6d6"}, "encoding": {"x": {"datum": 3}, "x2": {"datum": 100000}, "y": {"datum": 26.6}, "y2": {"datum": 31}}},
    {"encoding": {
       "x": {"field": "ppmv", "type": "quantitative", "title": null, "scale": {"type": "log", "domain": [3, 100000], "nice": false}, "axis": {"values": [10, 100, 1000, 10000, 100000], "labelExpr": "'10' + ['', '\u00b9', '\u00b2', '\u00b3', '\u2074', '\u2075'][round(log(datum.value) / LN10)]"}},
       "y": {"field": "alt", "type": "quantitative", "title": "Altitude GPS /km", "scale": {"domain": [1.5, 31], "nice": false, "zero": false}, "axis": {"values": [5, 10, 15, 20, 25, 30], "titleY": 276, "titlePadding": 8}}},
     "layer": [
       {"data": {"name": "profiles"}, "transform": [{"filter": "datum.panel == 'a' && datum.series == 'reference'"}], "mark": {"type": "line", "color": "#8a8a8a", "strokeWidth": 1, "strokeDash": [3, 1.5]}, "encoding": {"order": {"value": null}}},
       {"data": {"name": "profiles"}, "transform": [{"filter": "datum.panel == 'a' && datum.series == 'measured'"}], "mark": {"type": "line", "color": "black", "strokeWidth": 1}, "encoding": {"order": {"value": null}}},
       {"data": {"name": "bars"}, "transform": [{"filter": "datum.panel == 'a'"}], "mark": {"type": "rule", "color": "black", "strokeWidth": 1.3}, "encoding": {"x": {"field": "lo", "type": "quantitative"}, "x2": {"field": "hi"}}}
     ]},
    {"data": {"name": "panels"}, "transform": [{"filter": "datum.panel == 'a' && datum.boxed"}], "mark": {"type": "rect", "fill": "white", "stroke": "red", "strokeWidth": 1.5}, "encoding": {"x": {"datum": 3.7}, "x2": {"datum": 157}, "y": {"datum": 2.05}, "y2": {"datum": 3.7}}},
    {"data": {"name": "panels"}, "transform": [{"filter": "datum.panel == 'a'"}], "mark": {"type": "text", "fontSize": 11, "color": "black"}, "encoding": {"text": {"field": "letter"}, "x": {"datum": 18000}, "y": {"datum": 28.4}}},
    {"data": {"name": "panels"}, "transform": [{"filter": "datum.panel == 'a'"}], "mark": {"type": "text", "fontSize": 11.5, "fontWeight": "bold", "align": "left", "color": "black"}, "encoding": {"text": {"field": "name"}, "x": {"datum": 5.1}, "y": {"datum": 2.9}}}
  ]},
  {"width": 138, "height": 251, "layer": [
    {"data": {"name": "panels"}, "transform": [{"filter": "datum.panel == 'b'"}], "mark": {"type": "rect", "color": "#d6d6d6"}, "encoding": {"x": {"datum": 3}, "x2": {"datum": 100000}, "y": {"datum": 26.6}, "y2": {"datum": 31}}},
    {"encoding": {
       "x": {"field": "ppmv", "type": "quantitative", "title": null, "scale": {"type": "log", "domain": [3, 100000], "nice": false}, "axis": {"values": [10, 100, 1000, 10000, 100000], "labelExpr": "'10' + ['', '\u00b9', '\u00b2', '\u00b3', '\u2074', '\u2075'][round(log(datum.value) / LN10)]"}},
       "y": {"field": "alt", "type": "quantitative", "title": null, "scale": {"domain": [1.5, 31], "nice": false, "zero": false}, "axis": {"values": [5, 10, 15, 20, 25, 30], "labels": false}}},
     "layer": [
       {"data": {"name": "profiles"}, "transform": [{"filter": "datum.panel == 'b' && datum.series == 'reference'"}], "mark": {"type": "line", "color": "#8a8a8a", "strokeWidth": 1, "strokeDash": [3, 1.5]}, "encoding": {"order": {"value": null}}},
       {"data": {"name": "profiles"}, "transform": [{"filter": "datum.panel == 'b' && datum.series == 'measured'"}], "mark": {"type": "line", "color": "black", "strokeWidth": 1}, "encoding": {"order": {"value": null}}},
       {"data": {"name": "bars"}, "transform": [{"filter": "datum.panel == 'b'"}], "mark": {"type": "rule", "color": "black", "strokeWidth": 1.3}, "encoding": {"x": {"field": "lo", "type": "quantitative"}, "x2": {"field": "hi"}}}
     ]},
    {"data": {"name": "panels"}, "transform": [{"filter": "datum.panel == 'b' && datum.boxed"}], "mark": {"type": "rect", "fill": "white", "stroke": "red", "strokeWidth": 1.5}, "encoding": {"x": {"datum": 3.7}, "x2": {"datum": 157}, "y": {"datum": 2.05}, "y2": {"datum": 3.7}}},
    {"data": {"name": "panels"}, "transform": [{"filter": "datum.panel == 'b'"}], "mark": {"type": "text", "fontSize": 11, "color": "black"}, "encoding": {"text": {"field": "letter"}, "x": {"datum": 18000}, "y": {"datum": 28.4}}},
    {"data": {"name": "panels"}, "transform": [{"filter": "datum.panel == 'b'"}], "mark": {"type": "text", "fontSize": 11.5, "fontWeight": "bold", "align": "left", "color": "black"}, "encoding": {"text": {"field": "name"}, "x": {"datum": 5.1}, "y": {"datum": 2.9}}}
  ]},
  {"width": 138, "height": 251, "layer": [
    {"data": {"name": "panels"}, "transform": [{"filter": "datum.panel == 'c'"}], "mark": {"type": "rect", "color": "#d6d6d6"}, "encoding": {"x": {"datum": 3}, "x2": {"datum": 100000}, "y": {"datum": 26.6}, "y2": {"datum": 31}}},
    {"encoding": {
       "x": {"field": "ppmv", "type": "quantitative", "title": null, "scale": {"type": "log", "domain": [3, 100000], "nice": false}, "axis": {"values": [10, 100, 1000, 10000, 100000], "labelExpr": "'10' + ['', '\u00b9', '\u00b2', '\u00b3', '\u2074', '\u2075'][round(log(datum.value) / LN10)]"}},
       "y": {"field": "alt", "type": "quantitative", "title": null, "scale": {"domain": [1.5, 31], "nice": false, "zero": false}, "axis": {"values": [5, 10, 15, 20, 25, 30], "labels": false}}},
     "layer": [
       {"data": {"name": "profiles"}, "transform": [{"filter": "datum.panel == 'c' && datum.series == 'reference'"}], "mark": {"type": "line", "color": "#8a8a8a", "strokeWidth": 1, "strokeDash": [3, 1.5]}, "encoding": {"order": {"value": null}}},
       {"data": {"name": "profiles"}, "transform": [{"filter": "datum.panel == 'c' && datum.series == 'measured'"}], "mark": {"type": "line", "color": "black", "strokeWidth": 1}, "encoding": {"order": {"value": null}}},
       {"data": {"name": "bars"}, "transform": [{"filter": "datum.panel == 'c'"}], "mark": {"type": "rule", "color": "black", "strokeWidth": 1.3}, "encoding": {"x": {"field": "lo", "type": "quantitative"}, "x2": {"field": "hi"}}}
     ]},
    {"data": {"name": "panels"}, "transform": [{"filter": "datum.panel == 'c' && datum.boxed"}], "mark": {"type": "rect", "fill": "white", "stroke": "red", "strokeWidth": 1.5}, "encoding": {"x": {"datum": 3.7}, "x2": {"datum": 157}, "y": {"datum": 2.05}, "y2": {"datum": 3.7}}},
    {"data": {"name": "panels"}, "transform": [{"filter": "datum.panel == 'c'"}], "mark": {"type": "text", "fontSize": 11, "color": "black"}, "encoding": {"text": {"field": "letter"}, "x": {"datum": 18000}, "y": {"datum": 28.4}}},
    {"data": {"name": "panels"}, "transform": [{"filter": "datum.panel == 'c'"}], "mark": {"type": "text", "fontSize": 11.5, "fontWeight": "bold", "align": "left", "color": "black"}, "encoding": {"text": {"field": "name"}, "x": {"datum": 5.1}, "y": {"datum": 2.9}}}
  ]},
  {"width": 138, "height": 251, "layer": [
    {"data": {"name": "panels"}, "transform": [{"filter": "datum.panel == 'd'"}], "mark": {"type": "rect", "color": "#d6d6d6"}, "encoding": {"x": {"datum": 3}, "x2": {"datum": 100000}, "y": {"datum": 26.6}, "y2": {"datum": 31}}},
    {"encoding": {
       "x": {"field": "ppmv", "type": "quantitative", "title": null, "scale": {"type": "log", "domain": [3, 100000], "nice": false}, "axis": {"values": [10, 100, 1000, 10000, 100000], "labelExpr": "'10' + ['', '\u00b9', '\u00b2', '\u00b3', '\u2074', '\u2075'][round(log(datum.value) / LN10)]"}},
       "y": {"field": "alt", "type": "quantitative", "title": null, "scale": {"domain": [1.5, 31], "nice": false, "zero": false}, "axis": {"values": [5, 10, 15, 20, 25, 30], "labels": false}}},
     "layer": [
       {"data": {"name": "profiles"}, "transform": [{"filter": "datum.panel == 'd' && datum.series == 'reference'"}], "mark": {"type": "line", "color": "#8a8a8a", "strokeWidth": 1, "strokeDash": [3, 1.5]}, "encoding": {"order": {"value": null}}},
       {"data": {"name": "profiles"}, "transform": [{"filter": "datum.panel == 'd' && datum.series == 'measured'"}], "mark": {"type": "line", "color": "black", "strokeWidth": 1}, "encoding": {"order": {"value": null}}},
       {"data": {"name": "bars"}, "transform": [{"filter": "datum.panel == 'd'"}], "mark": {"type": "rule", "color": "black", "strokeWidth": 1.3}, "encoding": {"x": {"field": "lo", "type": "quantitative"}, "x2": {"field": "hi"}}}
     ]},
    {"data": {"name": "panels"}, "transform": [{"filter": "datum.panel == 'd' && datum.boxed"}], "mark": {"type": "rect", "fill": "white", "stroke": "red", "strokeWidth": 1.5}, "encoding": {"x": {"datum": 3.7}, "x2": {"datum": 157}, "y": {"datum": 2.05}, "y2": {"datum": 3.7}}},
    {"data": {"name": "panels"}, "transform": [{"filter": "datum.panel == 'd'"}], "mark": {"type": "text", "fontSize": 11, "color": "black"}, "encoding": {"text": {"field": "letter"}, "x": {"datum": 18000}, "y": {"datum": 28.4}}},
    {"data": {"name": "panels"}, "transform": [{"filter": "datum.panel == 'd'"}], "mark": {"type": "text", "fontSize": 11.5, "fontWeight": "bold", "align": "left", "color": "black"}, "encoding": {"text": {"field": "name"}, "x": {"datum": 5.1}, "y": {"datum": 2.9}}}
  ]},
  {"width": 138, "height": 251, "layer": [
    {"data": {"name": "panels"}, "transform": [{"filter": "datum.panel == 'e'"}], "mark": {"type": "rect", "color": "#d6d6d6"}, "encoding": {"x": {"datum": 3}, "x2": {"datum": 100000}, "y": {"datum": 26.6}, "y2": {"datum": 31}}},
    {"encoding": {
       "x": {"field": "ppmv", "type": "quantitative", "title": null, "scale": {"type": "log", "domain": [3, 100000], "nice": false}, "axis": {"values": [10, 100, 1000, 10000, 100000], "labelExpr": "'10' + ['', '\u00b9', '\u00b2', '\u00b3', '\u2074', '\u2075'][round(log(datum.value) / LN10)]"}},
       "y": {"field": "alt", "type": "quantitative", "title": null, "scale": {"domain": [1.5, 31], "nice": false, "zero": false}, "axis": {"values": [5, 10, 15, 20, 25, 30], "labels": false}}},
     "layer": [
       {"data": {"name": "profiles"}, "transform": [{"filter": "datum.panel == 'e' && datum.series == 'reference'"}], "mark": {"type": "line", "color": "#8a8a8a", "strokeWidth": 1, "strokeDash": [3, 1.5]}, "encoding": {"order": {"value": null}}},
       {"data": {"name": "profiles"}, "transform": [{"filter": "datum.panel == 'e' && datum.series == 'measured'"}], "mark": {"type": "line", "color": "black", "strokeWidth": 1}, "encoding": {"order": {"value": null}}},
       {"data": {"name": "bars"}, "transform": [{"filter": "datum.panel == 'e'"}], "mark": {"type": "rule", "color": "black", "strokeWidth": 1.3}, "encoding": {"x": {"field": "lo", "type": "quantitative"}, "x2": {"field": "hi"}}}
     ]},
    {"data": {"name": "panels"}, "transform": [{"filter": "datum.panel == 'e' && datum.boxed"}], "mark": {"type": "rect", "fill": "white", "stroke": "red", "strokeWidth": 1.5}, "encoding": {"x": {"datum": 3.7}, "x2": {"datum": 157}, "y": {"datum": 2.05}, "y2": {"datum": 3.7}}},
    {"data": {"name": "panels"}, "transform": [{"filter": "datum.panel == 'e'"}], "mark": {"type": "text", "fontSize": 11, "color": "black"}, "encoding": {"text": {"field": "letter"}, "x": {"datum": 18000}, "y": {"datum": 28.4}}},
    {"data": {"name": "panels"}, "transform": [{"filter": "datum.panel == 'e'"}], "mark": {"type": "text", "fontSize": 11.5, "fontWeight": "bold", "align": "left", "color": "black"}, "encoding": {"text": {"field": "name"}, "x": {"datum": 5.1}, "y": {"datum": 2.9}}}
  ]},
  {"width": 138, "height": 251, "layer": [
    {"data": {"name": "panels"}, "transform": [{"filter": "datum.panel == 'f'"}], "mark": {"type": "rect", "color": "#d6d6d6"}, "encoding": {"x": {"datum": 3}, "x2": {"datum": 100000}, "y": {"datum": 26.6}, "y2": {"datum": 31}}},
    {"encoding": {
       "x": {"field": "ppmv", "type": "quantitative", "title": null, "scale": {"type": "log", "domain": [3, 100000], "nice": false}, "axis": {"values": [10, 100, 1000, 10000, 100000], "labelExpr": "'10' + ['', '\u00b9', '\u00b2', '\u00b3', '\u2074', '\u2075'][round(log(datum.value) / LN10)]"}},
       "y": {"field": "alt", "type": "quantitative", "title": null, "scale": {"domain": [1.5, 31], "nice": false, "zero": false}, "axis": {"values": [5, 10, 15, 20, 25, 30]}}},
     "layer": [
       {"data": {"name": "profiles"}, "transform": [{"filter": "datum.panel == 'f' && datum.series == 'reference'"}], "mark": {"type": "line", "color": "#8a8a8a", "strokeWidth": 1, "strokeDash": [3, 1.5]}, "encoding": {"order": {"value": null}}},
       {"data": {"name": "profiles"}, "transform": [{"filter": "datum.panel == 'f' && datum.series == 'measured'"}], "mark": {"type": "line", "color": "black", "strokeWidth": 1}, "encoding": {"order": {"value": null}}},
       {"data": {"name": "bars"}, "transform": [{"filter": "datum.panel == 'f'"}], "mark": {"type": "rule", "color": "black", "strokeWidth": 1.3}, "encoding": {"x": {"field": "lo", "type": "quantitative"}, "x2": {"field": "hi"}}}
     ]},
    {"data": {"name": "panels"}, "transform": [{"filter": "datum.panel == 'f'"}], "mark": {"type": "text", "fontSize": 11, "color": "black"}, "encoding": {"text": {"field": "letter"}, "x": {"datum": 18000}, "y": {"datum": 28.4}}},
    {"data": {"name": "panels"}, "transform": [{"filter": "datum.panel == 'f'"}], "mark": {"type": "text", "fontSize": 11.5, "fontWeight": "bold", "align": "left", "color": "black"}, "encoding": {"text": {"field": "name"}, "x": {"datum": 5.1}, "y": {"datum": 2.9}}}
  ]},
  {"width": 138, "height": 251, "layer": [
    {"data": {"name": "panels"}, "transform": [{"filter": "datum.panel == 'g'"}], "mark": {"type": "rect", "color": "#d6d6d6"}, "encoding": {"x": {"datum": 3}, "x2": {"datum": 100000}, "y": {"datum": 26.6}, "y2": {"datum": 31}}},
    {"encoding": {
       "x": {"field": "ppmv", "type": "quantitative", "title": "\u03c7H\u2082O /ppmv", "scale": {"type": "log", "domain": [3, 100000], "nice": false}, "axis": {"values": [10, 100, 1000, 10000, 100000], "labelExpr": "'10' + ['', '\u00b9', '\u00b2', '\u00b3', '\u2074', '\u2075'][round(log(datum.value) / LN10)]", "titleX": 194, "titlePadding": 12}},
       "y": {"field": "alt", "type": "quantitative", "title": null, "scale": {"domain": [1.5, 31], "nice": false, "zero": false}, "axis": {"values": [5, 10, 15, 20, 25, 30], "labels": false}}},
     "layer": [
       {"data": {"name": "profiles"}, "transform": [{"filter": "datum.panel == 'g' && datum.series == 'reference'"}], "mark": {"type": "line", "color": "#8a8a8a", "strokeWidth": 1, "strokeDash": [3, 1.5]}, "encoding": {"order": {"value": null}}},
       {"data": {"name": "profiles"}, "transform": [{"filter": "datum.panel == 'g' && datum.series == 'measured'"}], "mark": {"type": "line", "color": "black", "strokeWidth": 1}, "encoding": {"order": {"value": null}}},
       {"data": {"name": "bars"}, "transform": [{"filter": "datum.panel == 'g'"}], "mark": {"type": "rule", "color": "black", "strokeWidth": 1.3}, "encoding": {"x": {"field": "lo", "type": "quantitative"}, "x2": {"field": "hi"}}}
     ]},
    {"data": {"name": "panels"}, "transform": [{"filter": "datum.panel == 'g'"}], "mark": {"type": "text", "fontSize": 11, "color": "black"}, "encoding": {"text": {"field": "letter"}, "x": {"datum": 18000}, "y": {"datum": 28.4}}},
    {"data": {"name": "panels"}, "transform": [{"filter": "datum.panel == 'g'"}], "mark": {"type": "text", "fontSize": 11.5, "fontWeight": "bold", "align": "left", "color": "black"}, "encoding": {"text": {"field": "name"}, "x": {"datum": 5.1}, "y": {"datum": 2.9}}}
  ]},
  {"width": 138, "height": 251, "layer": [
    {"data": {"name": "panels"}, "transform": [{"filter": "datum.panel == 'h'"}], "mark": {"type": "rect", "color": "#d6d6d6"}, "encoding": {"x": {"datum": 3}, "x2": {"datum": 100000}, "y": {"datum": 26.6}, "y2": {"datum": 31}}},
    {"encoding": {
       "x": {"field": "ppmv", "type": "quantitative", "title": null, "scale": {"type": "log", "domain": [3, 100000], "nice": false}, "axis": {"values": [10, 100, 1000, 10000, 100000], "labelExpr": "'10' + ['', '\u00b9', '\u00b2', '\u00b3', '\u2074', '\u2075'][round(log(datum.value) / LN10)]"}},
       "y": {"field": "alt", "type": "quantitative", "title": null, "scale": {"domain": [1.5, 31], "nice": false, "zero": false}, "axis": {"values": [5, 10, 15, 20, 25, 30], "labels": false}}},
     "layer": [
       {"data": {"name": "profiles"}, "transform": [{"filter": "datum.panel == 'h' && datum.series == 'reference'"}], "mark": {"type": "line", "color": "#8a8a8a", "strokeWidth": 1, "strokeDash": [3, 1.5]}, "encoding": {"order": {"value": null}}},
       {"data": {"name": "profiles"}, "transform": [{"filter": "datum.panel == 'h' && datum.series == 'measured'"}], "mark": {"type": "line", "color": "black", "strokeWidth": 1}, "encoding": {"order": {"value": null}}},
       {"data": {"name": "bars"}, "transform": [{"filter": "datum.panel == 'h'"}], "mark": {"type": "rule", "color": "black", "strokeWidth": 1.3}, "encoding": {"x": {"field": "lo", "type": "quantitative"}, "x2": {"field": "hi"}}}
     ]},
    {"data": {"name": "panels"}, "transform": [{"filter": "datum.panel == 'h'"}], "mark": {"type": "text", "fontSize": 11, "color": "black"}, "encoding": {"text": {"field": "letter"}, "x": {"datum": 18000}, "y": {"datum": 28.4}}},
    {"data": {"name": "panels"}, "transform": [{"filter": "datum.panel == 'h'"}], "mark": {"type": "text", "fontSize": 11.5, "fontWeight": "bold", "align": "left", "color": "black"}, "encoding": {"text": {"field": "name"}, "x": {"datum": 5.1}, "y": {"datum": 2.9}}}
  ]},
  {"width": 138, "height": 251, "layer": [
    {"data": {"name": "panels"}, "transform": [{"filter": "datum.panel == 'i'"}], "mark": {"type": "rect", "color": "#d6d6d6"}, "encoding": {"x": {"datum": 3}, "x2": {"datum": 100000}, "y": {"datum": 26.6}, "y2": {"datum": 31}}},
    {"encoding": {
       "x": {"field": "ppmv", "type": "quantitative", "title": null, "scale": {"type": "log", "domain": [3, 100000], "nice": false}, "axis": {"values": [10, 100, 1000, 10000, 100000], "labelExpr": "'10' + ['', '\u00b9', '\u00b2', '\u00b3', '\u2074', '\u2075'][round(log(datum.value) / LN10)]"}},
       "y": {"field": "alt", "type": "quantitative", "title": null, "scale": {"domain": [1.5, 31], "nice": false, "zero": false}, "axis": {"values": [5, 10, 15, 20, 25, 30], "labels": false}}},
     "layer": [
       {"data": {"name": "profiles"}, "transform": [{"filter": "datum.panel == 'i' && datum.series == 'reference'"}], "mark": {"type": "line", "color": "#8a8a8a", "strokeWidth": 1, "strokeDash": [3, 1.5]}, "encoding": {"order": {"value": null}}},
       {"data": {"name": "profiles"}, "transform": [{"filter": "datum.panel == 'i' && datum.series == 'measured'"}], "mark": {"type": "line", "color": "black", "strokeWidth": 1}, "encoding": {"order": {"value": null}}},
       {"data": {"name": "bars"}, "transform": [{"filter": "datum.panel == 'i'"}], "mark": {"type": "rule", "color": "black", "strokeWidth": 1.3}, "encoding": {"x": {"field": "lo", "type": "quantitative"}, "x2": {"field": "hi"}}}
     ]},
    {"data": {"name": "panels"}, "transform": [{"filter": "datum.panel == 'i'"}], "mark": {"type": "text", "fontSize": 11, "color": "black"}, "encoding": {"text": {"field": "letter"}, "x": {"datum": 18000}, "y": {"datum": 28.4}}},
    {"data": {"name": "panels"}, "transform": [{"filter": "datum.panel == 'i'"}], "mark": {"type": "text", "fontSize": 11.5, "fontWeight": "bold", "align": "left", "color": "black"}, "encoding": {"text": {"field": "name"}, "x": {"datum": 5.1}, "y": {"datum": 2.9}}}
  ]}
]
}
